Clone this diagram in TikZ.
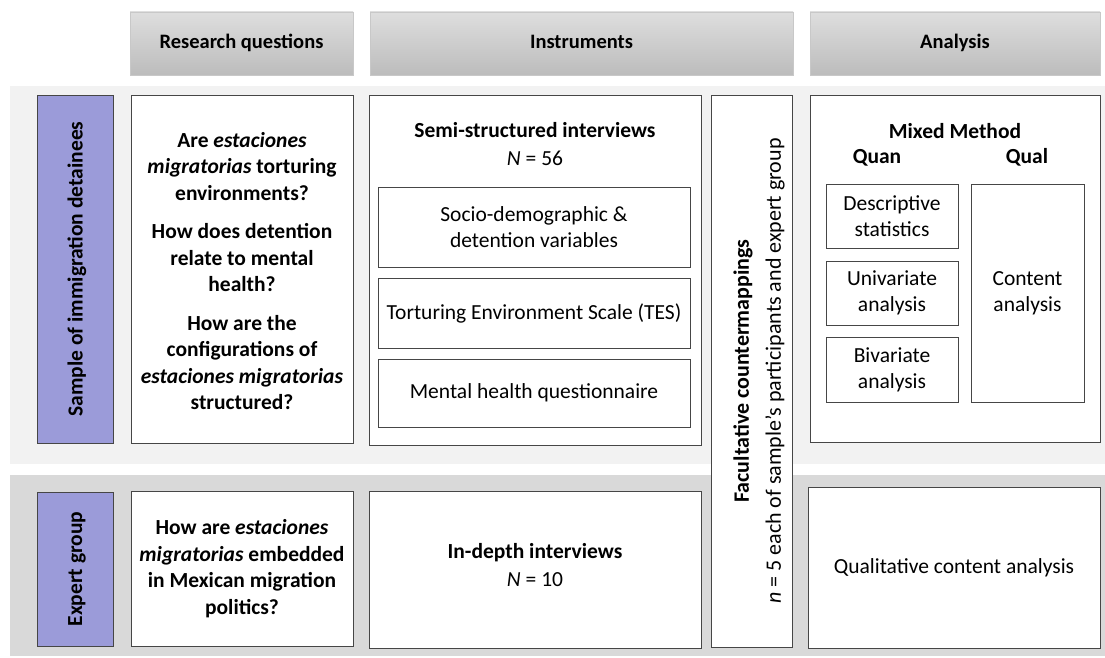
\documentclass[tikz,border=0pt]{standalone}
\usepackage{fontspec}
\setmainfont{Carlito}
\usetikzlibrary{positioning}
\definecolor{hdrTop}{RGB}{222,222,222}
\definecolor{hdrBot}{RGB}{188,188,188}
\definecolor{hdrEdge}{RGB}{200,200,200}
\definecolor{bandA}{RGB}{242,242,242}
\definecolor{bandB}{RGB}{217,217,217}
\definecolor{lav}{RGB}{155,155,217}
\definecolor{edge}{RGB}{70,70,70}
\tikzset{
  hdr/.style={draw=hdrEdge, line width=0.8pt, top color=hdrTop, bottom color=hdrBot, inner sep=0pt,
    font=\fontsize{20.5}{24}\selectfont\bfseries, text height=14pt, text depth=4pt},
  wbox/.style={draw=edge, line width=0.9pt, fill=white, inner sep=0pt, align=center},
  lbox/.style={draw=edge, line width=0.9pt, fill=lav, inner sep=0pt},
  rq/.style={align=center, font=\fontsize{21.5}{26.5}\selectfont\bfseries},
  txt/.style={align=center, font=\fontsize{21.5}{26}\selectfont},
  btxt/.style={align=center, font=\fontsize{21.5}{26}\selectfont\bfseries},
  vlab/.style={rotate=90, font=\fontsize{21.5}{26}\selectfont\bfseries},
}
\begin{document}
\begin{tikzpicture}[x=1pt,y=-1pt]
\useasboundingbox (0,0) rectangle (1105,658);
% bands
\fill[bandA] (10,86) rectangle (1105,464);
\fill[bandB] (10,475) rectangle (1105,656);
% headers
\node[hdr, minimum width=223, minimum height=63] (hRQ) at (241.5,43.5) {Research questions};
\node[hdr, minimum width=423, minimum height=63] (hIn) at (581.5,43.5) {Instruments};
\node[hdr, minimum width=290, minimum height=63] (hAn) at (955,43.5) {Analysis};
% row 1
\node[lbox, minimum width=76, minimum height=348] (lab1) at (75,269) {};
\node[vlab] (lab1t) at (77,269) {Sample of immigration detainees};
\node[wbox, minimum width=222, minimum height=348] (rq1) at (242,269) {};
\node[rq] (rq1t) at (242,271) {Are \textit{estaciones}\\ \textit{migratorias} torturing\\ environments?\\[12pt]
How does detention\\ relate to mental\\ health?\\[12pt]
How are the\\ configurations of\\ \textit{estaciones migratorias}\\ structured?};
\node[wbox, minimum width=332, minimum height=350] (in1) at (535,270) {};
\node[btxt] (in1t) at (535,130) {Semi-structured interviews};
\node[txt] (in1n) at (535,158) {\textit{N} = 56};
\node[wbox, minimum width=312, minimum height=80, txt] (s1) at (534,227) {Socio-demographic \&\\ detention variables};
\node[wbox, minimum width=312, minimum height=70, txt] (s2) at (534,313) {Torturing Environment Scale (TES)};
\node[wbox, minimum width=312, minimum height=68, txt] (s3) at (534,393) {Mental health questionnaire};
% facultative
\node[wbox, minimum width=81, minimum height=552] (fac) at (751.5,371) {};
\node[rotate=90, font=\fontsize{22}{32}\selectfont, align=center] (fact) at (759,371)
  {\textbf{Facultative countermappings}\\ \textit{n} = 5 each of sample’s participants and expert group};
% analysis 1
\node[wbox, minimum width=290, minimum height=347] (an1) at (955,268.5) {};
\node[btxt] (mm) at (955,131) {Mixed Method};
\node[btxt, text height=14pt, text depth=4pt] (quan) at (877,158) {Quan};
\node[btxt, text height=14pt, text depth=4pt] (qual) at (1027,158) {Qual};
\node[wbox, minimum width=132, minimum height=64, txt] (q1) at (892,216) {Descriptive\\ statistics};
\node[wbox, minimum width=132, minimum height=64, txt] (q2) at (892,293) {Univariate\\ analysis};
\node[wbox, minimum width=132, minimum height=65, txt] (q3) at (892,369.5) {Bivariate\\ analysis};
\node[wbox, minimum width=113, minimum height=218, txt] (ql) at (1027.5,293) {Content\\ analysis};
% row 2
\node[lbox, minimum width=76, minimum height=154] (lab2) at (75,569) {};
\node[vlab] (lab2t) at (77,569) {Expert group};
\node[wbox, minimum width=222, minimum height=155, rq] (rq2) at (242,568.5)
  {How are \textit{estaciones}\\ \textit{migratorias} embedded\\ in Mexican migration\\ politics?};
\node[wbox, minimum width=332, minimum height=157] (in2) at (535,569.5) {};
\node[btxt] (in2t) at (535,553) {In-depth interviews};
\node[txt] (in2n) at (535,580) {\textit{N} = 10};
\node[wbox, minimum width=292, minimum height=161, txt] (an2) at (954,567.5) {Qualitative content analysis};
\end{tikzpicture}
\end{document}
